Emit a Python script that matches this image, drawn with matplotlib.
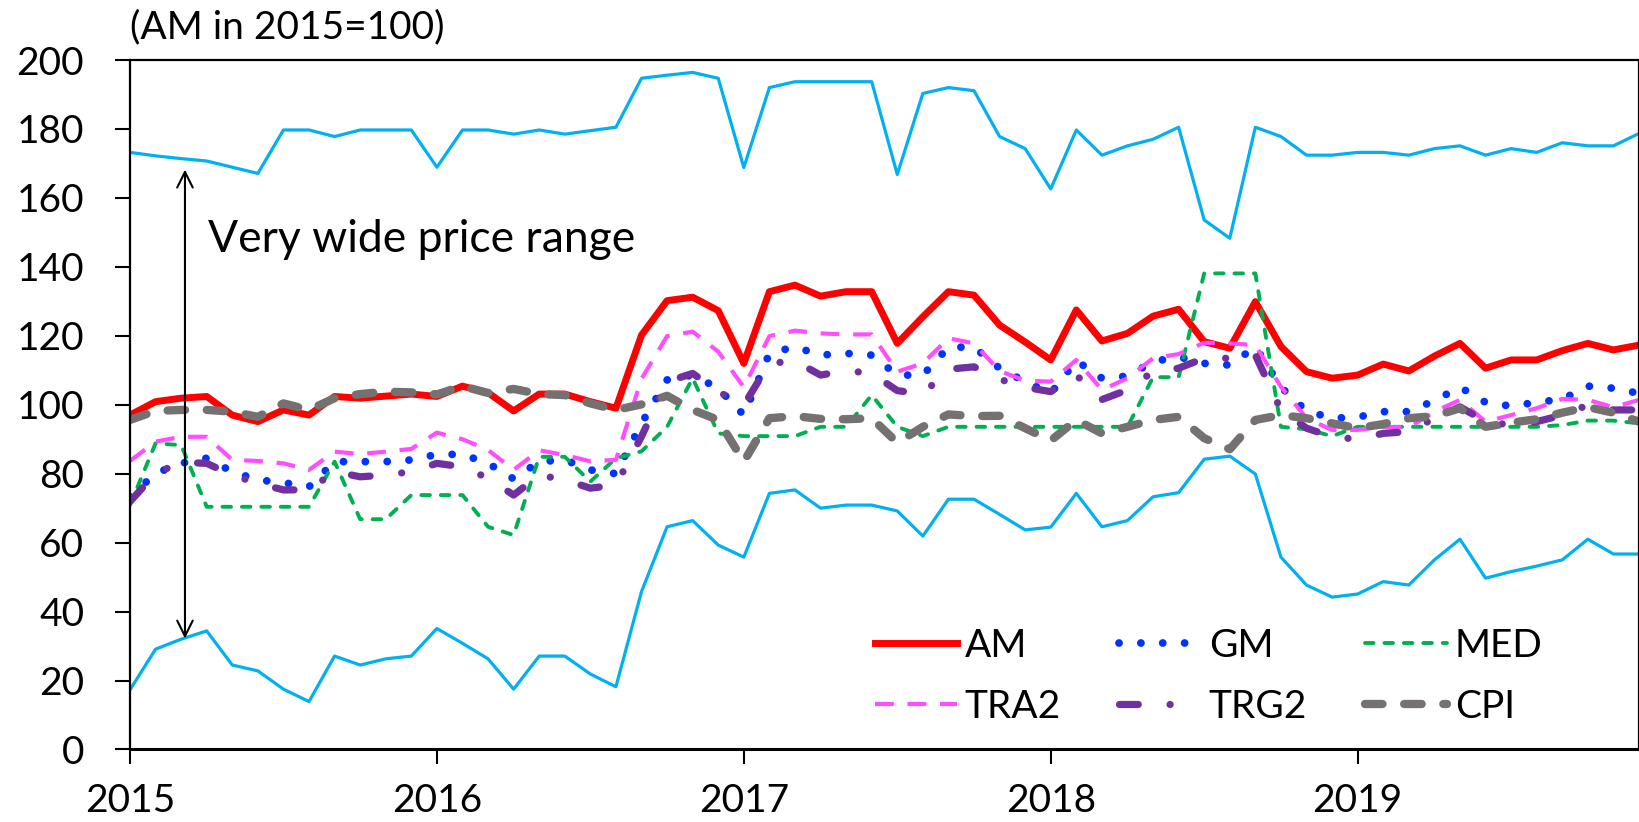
import numpy as np
import matplotlib
matplotlib.use("Agg")
import matplotlib.pyplot as plt

plt.rcParams['font.family'] = ['Lato', 'DejaVu Sans']

# monthly index, Jan 2015 .. Dec 2019
months = np.arange(60)
year_ticks = [0, 12, 24, 36, 48]
year_labels = ["2015", "2016", "2017", "2018", "2019"]

price_max = [173.2, 172.2, 171.4, 170.7, 168.9, 167.1, 179.7, 179.7, 177.8, 179.7,
             179.7, 179.7, 168.9, 179.7, 179.7, 178.5, 179.7, 178.5, 179.5, 180.5,
             194.7, 195.6, 196.4, 194.7, 168.8, 192.0, 193.7, 193.7, 193.7, 193.7,
             166.8, 190.3, 192.0, 191.1, 177.8, 174.3, 162.6, 179.7, 172.4, 175.1,
             177.0, 180.5, 153.6, 148.3, 180.5, 177.8, 172.4, 172.4, 173.2, 173.2,
             172.4, 174.3, 175.1, 172.4, 174.3, 173.2, 176.0, 175.1, 175.1, 178.7]
price_min = [17.3, 29.1, 32.0, 34.4, 24.5, 22.8, 17.5, 13.9, 27.1, 24.5,
             26.3, 27.1, 35.1, 30.8, 26.3, 17.5, 27.1, 27.1, 21.9, 18.2,
             45.8, 64.6, 66.4, 59.3, 55.8, 74.3, 75.3, 70.0, 70.9, 70.9,
             69.2, 61.9, 72.6, 72.6, 68.2, 63.7, 64.5, 74.3, 64.6, 66.4,
             73.3, 74.5, 84.2, 85.1, 79.9, 55.8, 47.7, 44.2, 45.1, 48.7,
             47.7, 55.0, 61.0, 49.7, 51.6, 53.2, 55.0, 61.0, 56.7, 56.7]
am = [97.0, 100.9, 101.9, 102.4, 97.0, 95.1, 98.5, 97.0, 102.4, 101.9,
      102.5, 103.1, 102.4, 105.4, 103.5, 98.2, 103.1, 103.1, 100.9, 99.0,
      120.2, 130.2, 131.2, 127.3, 112.0, 132.8, 134.7, 131.5, 132.8, 132.8,
      117.8, 125.5, 132.8, 131.8, 123.1, 118.2, 113.0, 127.5, 118.5, 120.7,
      125.7, 127.7, 118.3, 116.4, 129.9, 116.9, 109.6, 107.7, 108.6, 111.8,
      109.8, 114.1, 117.8, 110.6, 113.0, 113.0, 115.7, 117.8, 115.9, 117.3]
gm = [73.3, 80.1, 83.0, 84.5, 80.6, 78.2, 77.4, 76.2, 83.5, 83.5,
      83.5, 84.0, 85.6, 85.6, 83.0, 78.5, 83.5, 84.0, 81.1, 80.0,
      94.6, 107.2, 108.6, 104.8, 97.0, 114.9, 116.8, 114.4, 114.9, 114.4,
      108.6, 108.6, 116.7, 116.7, 110.6, 106.7, 103.3, 112.8, 107.7, 108.3,
      112.5, 113.9, 112.0, 111.5, 116.8, 105.1, 98.2, 96.1, 96.4, 98.0,
      98.0, 101.2, 105.1, 100.7, 99.6, 100.7, 101.6, 105.4, 104.8, 103.3]
med = [70.9, 88.8, 88.3, 70.4, 70.4, 70.4, 70.4, 70.4, 83.5, 66.8,
       66.8, 73.8, 73.8, 73.8, 64.6, 62.2, 84.9, 84.9, 77.7, 84.5,
       86.5, 93.6, 107.7, 91.7, 90.9, 90.9, 90.9, 93.6, 93.6, 102.8,
       93.6, 90.9, 93.6, 93.6, 93.6, 93.6, 93.6, 93.6, 93.6, 93.6,
       108.0, 108.0, 138.1, 138.1, 138.1, 93.6, 92.9, 90.9, 93.6, 93.6,
       93.6, 93.6, 93.6, 93.6, 93.6, 93.6, 94.1, 95.4, 95.4, 94.6]
tra2 = [83.7, 89.3, 90.7, 90.7, 84.0, 83.7, 83.0, 81.1, 86.4, 85.7,
        86.4, 87.2, 91.9, 90.0, 86.9, 81.1, 86.8, 85.4, 83.6, 84.0,
        107.5, 119.9, 121.2, 115.4, 105.1, 119.9, 121.5, 120.7, 120.4, 120.4,
        109.6, 112.0, 119.3, 117.8, 109.8, 107.0, 106.7, 113.0, 104.3, 107.7,
        113.5, 114.7, 118.0, 117.8, 117.3, 105.2, 96.1, 92.7, 92.7, 93.6,
        93.4, 98.0, 101.4, 95.1, 97.0, 99.0, 101.7, 101.4, 99.3, 101.4]
trg2 = [71.9, 80.1, 83.3, 83.0, 79.6, 77.2, 75.3, 75.3, 80.6, 79.1,
        79.6, 80.6, 83.0, 82.0, 78.7, 73.8, 79.6, 78.2, 75.8, 76.7,
        90.8, 106.7, 109.1, 103.8, 99.9, 112.0, 112.7, 108.6, 109.9, 109.1,
        104.1, 103.1, 110.3, 111.0, 107.4, 105.1, 103.8, 108.6, 101.5, 104.3,
        109.6, 110.6, 113.5, 113.5, 114.4, 98.5, 93.2, 90.7, 90.0, 91.7,
        92.2, 96.1, 99.4, 95.1, 94.1, 95.1, 97.0, 99.9, 98.5, 98.5]
cpi = [95.6, 98.2, 98.5, 98.5, 98.0, 96.5, 100.4, 98.5, 101.9, 103.1,
       103.8, 103.6, 103.0, 105.4, 103.4, 104.6, 103.1, 102.8, 100.4, 98.5,
       100.1, 102.6, 98.5, 95.6, 83.5, 96.1, 96.7, 95.9, 95.8, 96.1,
       89.0, 93.6, 97.2, 96.7, 96.8, 93.2, 89.6, 95.6, 91.7, 93.6,
       95.6, 96.5, 90.3, 87.1, 95.6, 97.0, 96.1, 94.6, 93.2, 94.4,
       96.1, 96.7, 99.0, 93.6, 94.8, 95.8, 97.7, 99.3, 97.7, 95.1]

fig = plt.figure(figsize=(16.39, 8.22), dpi=100)
ax = fig.add_axes([0.0793, 0.0882, 0.9207, 0.8388])

ax.plot(months, price_max, color="#00B0F0", lw=2.3)
ax.plot(months, price_min, color="#00B0F0", lw=2.3)
l_am, = ax.plot(months, am, color="#FF0000", lw=5, label="AM")
l_gm, = ax.plot(months, gm, color="#0033FF", lw=5.6, linestyle=(0, (0.01, 2.8)),
                dash_capstyle="round", label="GM")
l_med, = ax.plot(months, med, color="#00B050", lw=2.8, linestyle=(0, (2.2, 2.8)),
                 dash_capstyle="round", label="MED")
l_tra, = ax.plot(months, tra2, color="#FF4DFF", lw=3.0, linestyle=(0, (4.5, 3.3)),
                 label="TRA2")
l_trg, = ax.plot(months, trg2, color="#7030A0", lw=5.2,
                 linestyle=(0, (2.6, 4.4, 0.01, 4.4)),
                 dash_capstyle="round", label="TRG2")
l_cpi, = ax.plot(months, cpi, color="#767171", lw=6, linestyle=(0, (2.1, 2.6)),
                 dash_capstyle="round", label="CPI")

ax.set_xlim(0, 59)
ax.set_ylim(0, 200)
ax.set_yticks(np.arange(0, 201, 20))
ax.set_xticks(year_ticks)
ax.set_xticklabels(year_labels)
ax.tick_params(axis="both", labelsize=28, length=11, width=1.5, direction="out")
ax.tick_params(axis="y", pad=22)
ax.tick_params(axis="x", pad=13)
for s in ax.spines.values():
    s.set_linewidth(1.6)
ax.spines["bottom"].set_linewidth(2.2)

ax.text(0.0, 1.022, "(AM in 2015=100)", transform=ax.transAxes, fontsize=28,
        ha="left", va="bottom")

ax.annotate("", xy=(2.15, 32.2), xytext=(2.15, 168.2),
            arrowprops=dict(arrowstyle="<->", lw=1.5, color="black",
                            mutation_scale=28, shrinkA=0, shrinkB=0))
ax.text(3.05, 148, "Very wide price range", fontsize=32, ha="left", va="center")

# legend fills column by column, so order handles to read AM GM MED / TRA2 TRG2 CPI
handles = [l_am, l_tra, l_gm, l_trg, l_med, l_cpi]
ax.legend(handles=handles, labels=[h.get_label() for h in handles],
          ncol=3, loc="lower left", bbox_to_anchor=(0.534, 0.118),
          bbox_transform=fig.transFigure, frameon=False, fontsize=28,
          handlelength=2.1, handletextpad=0.2, columnspacing=1.5,
          labelspacing=0.65, borderpad=0, borderaxespad=0)

fig.savefig("out.png", dpi=100)
